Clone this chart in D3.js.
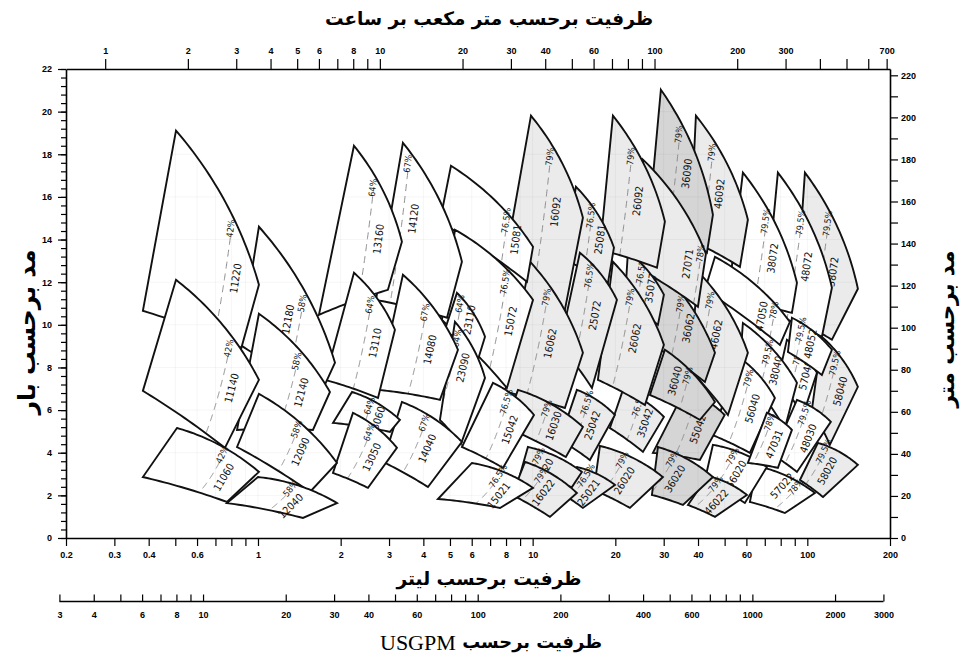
<!DOCTYPE html>
<html>
<head>
<meta charset="utf-8">
<script src="https://cdn.jsdelivr.net/npm/d3@7/dist/d3.min.js"></script>
<style>
  html, body { margin: 0; padding: 0; background: #fff; }
  svg { display: block; }
</style>
</head>
<body>
<svg id="chart" width="967" height="661"></svg>
<script>
// ---------- axis ticks ----------
const lpsTicks = [0.2,0.3,0.4,0.5,0.6,0.7,0.8,0.9,1,2,3,4,5,6,7,8,9,10,20,30,40,50,60,70,80,90,100,200];
const lpsLabels = [0.2,0.3,0.4,0.6,1,2,3,4,5,6,8,10,20,30,40,60,100,200];
const m3hTicks = [1,2,3,4,5,6,7,8,9,10,20,30,40,50,60,70,80,90,100,200,300,400,500,600,700];
const m3hLabels = [1,2,3,4,5,6,8,10,20,30,40,60,100,200,300,700];
const gpmTicks = [3,4,5,6,7,8,9,10,20,30,40,50,60,70,80,90,100,200,300,400,500,600,700,800,900,1000,2000,3000];
const gpmLabels = [3,4,6,8,10,20,30,40,60,100,200,400,600,1000,2000,3000];
const barLabels = [0,2,4,6,8,10,12,14,16,18,20,22];
const meterTicks = [0,10,20,30,40,50,60,70,80,90,100,110,120,130,140,150,160,170,180,190,200,210,220];
const meterLabels = [0,20,40,60,80,100,120,140,160,180,200,220];

// ---------- pump ranges: flow in l/s, head in bar ----------
// listed right to left, upper impeller range first within each family
const models = ["58072","58040","58020","57040","57022","48072","48052","48030","38072","38040",
  "56040","56020","47050","47031","46092","46062","46022","55042","36090","36062","36040","36020",
  "27071","35077","35042","26092","26062","26020","25081","25072","25042","25021",
  "16092","16062","16030","16020","16022","15081","15072","15042","15021","23110","23090",
  "14120","14080","14040","13160","13110","13060","13050","12180","12140","12090","12040",
  "11220","11140","11060"];
const efficiency = ["79.5%","79.5%","79.5%","78%","78%","79.5%","79.5%","79.5%","79.5%","79.5%",
  "79%","79%","78%","78%","79%","79%","79%","78.5%","79%","79%","79%","79%",
  "78%","76.5%","76.5%","79%","79%","79%","76.5%","76.5%","76.5%","76.5%",
  "79%","79%","79%","79%","79%","76.5%","76.5%","76.5%","76.5%","64%","64%",
  "67%","67%","67%","64%","64%","64%","64%","58%","58%","58%","58%",
  "42%","42%","42%"];
// 0 = standard, 1 = light tint, 2 = dark tint
const shade = [1,1,1,0,0,0,0,0,0,0,
  0,0,0,0,1,1,1,2,2,2,2,2,
  1,1,1,1,1,1,1,1,1,1,
  1,1,1,1,1,0,0,0,0,0,0,
  0,0,0,0,0,0,0,0,0,0,0,
  0,0,0];
const topLeft = [[98.0,17.14],[113.0,9.44],[109.3,4.46],[84.27,9.30],[65.52,3.38],[78.14,17.14],[87.9,10.33],[91.67,6.48],[58.27,17.14],[58.27,10.09],
  [56.84,8.45],[45.32,4.37],[46.1,13.19],[71.24,5.87],[39.3,19.81],[40.0,12.49],[43.46,2.91],[35.86,6.95],[29.3,21.03],[28.58,12.72],[30.3,8.83],[28.58,4.27],
  [25.21,17.75],[22.23,13.43],[21.32,6.95],[19.6,19.81],[19.6,12.96],[17.58,4.32],[14.37,16.48],[14.86,13.38],[14.49,6.95],[14.49,3.33],
  [9.86,19.81],[9.78,12.96],[8.84,6.95],[9.61,4.27],[9.38,3.57],[5.042,17.46],[5.214,14.46],[7.172,7.28],[6.01,3.52],[5.302,11.50],[5.214,10.14],
  [3.37,18.54],[3.37,12.35],[3.342,6.38],[2.236,18.40],[2.236,12.44],[2.2,6.85],[2.217,5.87],[1.008,14.60],[1.008,10.52],[1.008,6.76],[1.0,2.86],
  [0.503,19.11],[0.503,12.11],[0.507,5.16]];
const topRight = [[152.8,11.69],[152.8,7.09],[152.8,3.43],[108.4,7.75],[106.6,2.11],[122.9,11.74],[122.9,8.83],[121.8,5.45],[91.67,11.97],[91.67,7.28],
  [76.2,6.57],[71.24,3.33],[86.4,10.14],[87.9,5.07],[60.76,14.93],[60.76,8.69],[60.25,2.02],[50.02,5.77],[45.32,15.16],[46.1,8.69],[46.1,6.38],[45.32,2.86],
  [42.74,13.33],[30.05,11.41],[30.05,5.68],[30.3,14.84],[30.05,9.06],[29.8,2.86],[19.77,13.62],[20.27,11.17],[19.93,5.77],[19.93,2.49],
  [15.24,15.02],[15.24,8.69],[15.24,5.21],[15.11,3.10],[14.49,2.11],[10.03,13.66],[10.03,11.17],[10.11,5.77],[10.03,2.35],[6.707,9.44],[6.707,7.51],
  [5.527,12.96],[5.347,8.83],[5.527,4.51],[3.342,13.90],[3.152,9.77],[3.287,5.54],[3.205,4.23],[1.907,8.22],[1.828,6.85],[1.939,3.52],[1.939,1.64],
  [1.008,11.88],[1.008,7.42],[1.008,3.10]];
const bottomRight = [[122.9,9.30],[120.8,4.37],[114.1,1.92],[96.4,5.77],[82.87,1.17],[113.0,9.44],[113.0,7.65],[91.67,3.10],[87.9,10.56],[82.87,5.16],
  [61.78,3.99],[59.25,1.64],[79.47,9.06],[78.14,3.29],[56.84,12.72],[51.4,5.77],[46.1,0.99],[40.64,3.66],[43.1,13.38],[42.38,7.32],[40.64,5.54],[35.26,1.55],
  [39.97,10.85],[28.58,10.0],[25.21,4.04],[28.35,12.68],[25.64,6.24],[22.6,1.41],[18.8,11.97],[16.44,7.04],[16.16,3.66],[15.24,1.41],
  [13.1,10.70],[13.1,6.10],[13.21,3.80],[13.9,2.39],[11.56,0.99],[9.536,12.02],[8.06,7.04],[7.795,3.29],[7.606,1.41],[6.32,8.36],[5.481,4.41],
  [4.876,10.33],[4.597,6.48],[4.157,2.39],[2.972,11.64],[2.735,6.57],[3.023,4.98],[2.515,2.35],[1.653,6.48],[1.585,5.07],[1.546,2.16],[1.458,0.94],
  [0.87,8.92],[0.758,4.23],[0.771,1.69]];
const bottomLeft = [[90.15,10.23],[103.9,6.01],[94.0,2.72],[78.14,7.42],[61.78,1.69],[70.06,10.70],[85.0,8.73],[74.9,3.90],[51.4,11.17],[56.84,8.12],
  [44.95,4.84],[42.38,2.72],[42.38,11.64],[60.76,3.52],[37.4,13.99],[37.4,7.89],[36.75,1.55],[27.4,3.99],[26.73,15.40],[25.64,9.30],[26.73,6.71],[27.18,2.02],
  [24.8,12.58],[21.67,11.17],[19.11,5.16],[17.58,13.52],[17.28,7.42],[16.7,2.25],[13.1,13.05],[12.57,9.06],[12.57,4.60],[12.15,2.25],
  [7.93,12.96],[7.93,6.85],[7.93,5.21],[8.99,2.96],[8.41,2.02],[4.597,14.84],[4.675,10.23],[5.527,4.27],[4.52,1.83],[4.795,9.77],[4.597,5.54],
  [2.688,11.17],[2.734,6.95],[2.85,3.57],[1.667,10.47],[1.753,7.42],[1.875,5.40],[1.875,3.05],[0.860,9.06],[0.839,5.07],[0.839,4.27],[0.771,1.64],
  [0.381,10.66],[0.381,6.90],[0.381,2.86]];
// best-efficiency flow on the largest impeller curve
const bepFlow = [120.8,129.2,118,94.0,94,96.4,96.4,100.5,71.84,73.05,
  62.8,54.97,76.8,74.9,45.71,45.32,48.07,39.63,34.68,35.26,37.4,33.23,
  41.5,25.21,24.8,23.18,23.18,21.86,16.57,16.44,16.16,16.16,
  11.75,11.5,11.5,10.81,11.1,8.128,8.128,8.26,7.74,5.527,5.437,
  3.574,4.157,4.157,2.667,2.622,2.6,2.622,1.483,1.422,1.422,1.363,
  0.811,0.804,0.765];

// ---------- scales ----------
const svg = d3.select("#chart");
const x = d3.scaleLog().domain([0.2, 200]).range([66, 890]);
const y = d3.scaleLinear().domain([0, 22]).range([538, 69]);
const LPS_TO_M3H = 3.6, LPS_TO_GPM = 15.8503;
const xM3h = d3.scaleLog().domain(x.domain().map(v => v * LPS_TO_M3H)).range(x.range());
const xGpm = d3.scaleLog().domain(x.domain().map(v => v * LPS_TO_GPM)).range(x.range());
const yM = d3.scaleLinear().domain([0, 223]).range(y.range());

const defs = svg.append("defs");
const gridDef = defs.append("g").attr("id", "tile-grid")
  .attr("stroke", "#000").attr("stroke-opacity", 0.05).attr("stroke-width", 0.8);
lpsTicks.forEach(q => gridDef.append("line").attr("x1", x(q)).attr("x2", x(q)).attr("y1", y(22)).attr("y2", y(0)));
barLabels.forEach(h => gridDef.append("line").attr("x1", x(0.2)).attr("x2", x(200)).attr("y1", y(h)).attr("y2", y(h)));

// quadratic edge between two screen points, bowed towards the upper right
function edgePoints(p0, p1, bulge, n) {
  const dx = p1[0] - p0[0], dy = p1[1] - p0[1];
  const len = Math.hypot(dx, dy) || 1;
  const nx = dy / len, ny = -dx / len;
  const c = [(p0[0] + p1[0]) / 2 + nx * 2 * bulge * len, (p0[1] + p1[1]) / 2 + ny * 2 * bulge * len];
  const pts = [];
  for (let k = 0; k <= n; k++) {
    const t = k / n, a = (1 - t) * (1 - t), b = 2 * t * (1 - t), e = t * t;
    pts.push([a * p0[0] + b * c[0] + e * p1[0], a * p0[1] + b * c[1] + e * p1[1]]);
  }
  return pts;
}
const toPath = pts => "M" + pts.map(p => p[0].toFixed(2) + "," + p[1].toFixed(2)).join("L");

const fills = ["#ffffff", "#ebebeb", "#d5d5d5"];
const labelFont = '"Liberation Sans Narrow", "Arial Narrow", "DejaVu Sans Condensed", sans-serif';
// models whose name sits on the low-flow side of the efficiency line
const nameOnLeft = new Set(["12180", "36040", "27071", "47050", "57022"]);
const tilesG = svg.append("g");

models.forEach((model, i) => {
  const pt = v => [x(v[0]), y(v[1])];
  const TL = pt(topLeft[i]), TR = pt(topRight[i]), BR = pt(bottomRight[i]), BL = pt(bottomLeft[i]);
  const top = edgePoints(TL, TR, 0.055, 32);
  const bottom = edgePoints(BL, BR, 0.015, 20).reverse();
  const poly = top.concat(bottom);
  const d = toPath(poly) + "Z";
  const clipId = "tile-clip-" + i;
  defs.append("clipPath").attr("id", clipId).append("path").attr("d", d);

  const g = tilesG.append("g").attr("class", "pump-range");
  g.append("path").attr("d", d).attr("fill", fills[shade[i]]);
  g.append("use").attr("href", "#tile-grid").attr("clip-path", `url(#${clipId})`);

  // best-efficiency line: affinity curve H ~ Q^3 through the BEP on the top curve
  const Q0 = bepFlow[i], X0 = x(Q0);
  let Y0 = top[0][1];
  for (let k = 0; k < top.length - 1; k++) {
    const a = top[k], b = top[k + 1];
    if ((a[0] - X0) * (b[0] - X0) <= 0 && a[0] !== b[0]) {
      Y0 = a[1] + (b[1] - a[1]) * (X0 - a[0]) / (b[0] - a[0]);
      break;
    }
  }
  const H0 = y.invert(Y0);
  const curve = [[X0, Y0]];
  for (let k = 1; k <= 800; k++) {
    const q = Q0 * Math.pow(0.3, k / 800);
    const p = [x(q), y(H0 * Math.pow(q / Q0, 3))];
    if (!d3.polygonContains(poly, p)) break;
    curve.push(p);
  }
  const cum = [0];
  for (let k = 1; k < curve.length; k++) cum.push(cum[k - 1] + Math.hypot(curve[k][0] - curve[k - 1][0], curve[k][1] - curve[k - 1][1]));
  const L = cum[cum.length - 1];
  const at = s => {
    let k = 0;
    while (k < cum.length - 2 && cum[k + 1] < s) k++;
    const a = curve[k], b = curve[Math.min(k + 1, curve.length - 1)];
    const seg = (cum[k + 1] - cum[k]) || 1;
    const t = Math.max(0, Math.min(1, (s - cum[k]) / seg));
    const ux = a[0] - b[0], uy = a[1] - b[1], ul = Math.hypot(ux, uy) || 1;
    return { p: [a[0] + (b[0] - a[0]) * t, a[1] + (b[1] - a[1]) * t], u: [ux / ul, uy / ul] };
  };
  if (L > 4) {
    const s1 = Math.max(6, Math.min(12, 0.14 * L));
    const left = nameOnLeft.has(model);
    const s2 = left ? Math.max(14, Math.min(40, 0.35 * L)) : Math.max(18, Math.min(66, 0.5 * L));
    const side = left ? -12 : 11;
    const dashStart = s1 + 8;
    const dashPts = curve.filter((p, k) => cum[k] >= dashStart);
    if (dashPts.length > 1) {
      g.append("path").attr("d", toPath(dashPts)).attr("fill", "none")
        .attr("stroke", "#8c8c8c").attr("stroke-width", 1).attr("stroke-dasharray", "7,5");
    }
    const a1 = at(s1), a2 = at(s2);
    const ang = a => Math.atan2(a.u[1], a.u[0]) * 180 / Math.PI;
    g.append("text")
      .attr("transform", `translate(${a1.p[0] + a1.u[1]},${a1.p[1] - a1.u[0]}) rotate(${ang(a1)})`)
      .attr("text-anchor", "middle").attr("dy", "0.35em")
      .attr("font-family", labelFont).attr("font-size", 9).attr("fill", "#151515")
      .text(efficiency[i]);
    g.append("text")
      .attr("transform", `translate(${a2.p[0] - a2.u[1] * side},${a2.p[1] + a2.u[0] * side}) rotate(${ang(a2)})`)
      .attr("text-anchor", "middle").attr("dy", "0.35em")
      .attr("font-family", labelFont).attr("font-size", 10.5).attr("fill", "#111")
      .text(model);
  }
  g.append("path").attr("d", d).attr("fill", "none")
    .attr("stroke", "#111").attr("stroke-width", 1.9).attr("stroke-linejoin", "miter");
});

// ---------- axes ----------
const axisFont = '"Liberation Sans", Arial, sans-serif';
const labelIf = list => v => list.includes(v) ? String(v) : "";
function styleAxis(g) {
  g.selectAll("path.domain").attr("stroke", "#000").attr("stroke-width", 1.6);
  g.selectAll(".tick line").attr("stroke", "#000").attr("stroke-width", 1.2);
  g.selectAll(".tick text").attr("font-family", axisFont).attr("font-weight", "bold")
    .attr("font-size", 9).attr("fill", "#000");
}

svg.append("g").attr("transform", "translate(66,0)")
  .call(d3.axisLeft(y).tickValues(d3.range(0, 22.001, 0.4)).tickSize(5).tickSizeOuter(0).tickFormat(""))
  .call(g => g.select("path.domain").remove())
  .call(styleAxis);
svg.append("g").attr("transform", "translate(66,0)")
  .call(d3.axisLeft(y).tickValues(barLabels).tickSize(8).tickSizeOuter(0).tickPadding(6))
  .call(styleAxis);

svg.append("g").attr("transform", "translate(890,0)")
  .call(d3.axisRight(yM).tickValues(meterTicks).tickSize(8).tickSizeOuter(0).tickPadding(3).tickFormat(labelIf(meterLabels)))
  .call(styleAxis);

svg.append("g").attr("transform", "translate(0,538)")
  .call(d3.axisBottom(x).tickValues(lpsTicks).tickSize(8).tickSizeOuter(0).tickPadding(6).tickFormat(labelIf(lpsLabels)))
  .call(styleAxis);

svg.append("g").attr("transform", "translate(0,69)")
  .call(d3.axisTop(xM3h).tickValues(m3hTicks).tickSize(10).tickSizeOuter(0).tickPadding(5).tickFormat(labelIf(m3hLabels)))
  .call(styleAxis);

svg.append("g").attr("transform", "translate(0,601.5)")
  .call(d3.axisBottom(xGpm).tickValues(gpmTicks).tickSize(-7).tickSizeOuter(0).tickPadding(10).tickFormat(labelIf(gpmLabels)))
  .call(g => g.select("path.domain").attr("d", `M${xGpm(3)},0H${xGpm(3000)}`))
  .call(styleAxis);

// ---------- titles ----------
const titleFont = '"DejaVu Sans", sans-serif';
function fit(sel, width) {
  const w = sel.node().getComputedTextLength();
  const fs = parseFloat(sel.attr("font-size"));
  if (w > 0) sel.attr("font-size", (fs * width / w).toFixed(2));
  return sel;
}
fit(svg.append("text").attr("x", 489).attr("y", 25).attr("text-anchor", "middle")
  .attr("font-family", titleFont).attr("font-weight", "bold").attr("font-size", 20)
  .text("ظرفیت برحسب متر مکعب بر ساعت"), 328);
fit(svg.append("text").attr("x", 489).attr("y", 585).attr("text-anchor", "middle")
  .attr("font-family", titleFont).attr("font-weight", "bold").attr("font-size", 20)
  .text("ظرفیت برحسب لیتر"), 185);
fit(svg.append("text").attr("x", 602).attr("y", 648).attr("text-anchor", "end")
  .attr("font-family", titleFont).attr("font-weight", "bold").attr("font-size", 20)
  .text("ظرفیت برحسب"), 140);
svg.append("text").attr("x", 380).attr("y", 650).attr("text-anchor", "start")
  .attr("font-family", '"Liberation Serif", "Times New Roman", serif').attr("font-size", 22)
  .text("USGPM");
fit(svg.append("text").attr("transform", "translate(35,332) rotate(-90)").attr("text-anchor", "middle")
  .attr("font-family", titleFont).attr("font-weight", "bold").attr("font-size", 20)
  .text("مد برحسب بار"), 165);
fit(svg.append("text").attr("transform", "translate(954,329) rotate(-90)").attr("text-anchor", "middle")
  .attr("font-family", titleFont).attr("font-weight", "bold").attr("font-size", 20)
  .text("مد برحسب متر"), 157);
</script>
</body>
</html>
